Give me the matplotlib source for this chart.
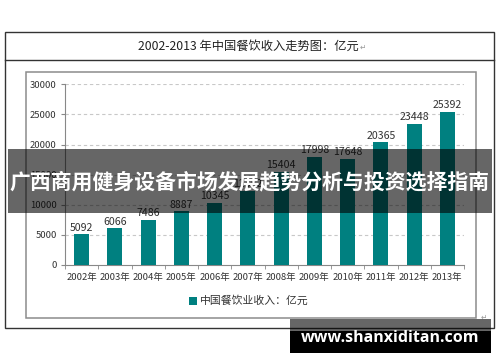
import matplotlib
matplotlib.use("Agg")
import matplotlib.pyplot as plt
from matplotlib.patches import Rectangle

plt.rcParams['font.family'] = ['Noto Sans CJK SC', 'DejaVu Sans']

years = ["2002年", "2003年", "2004年", "2005年", "2006年", "2007年",
         "2008年", "2009年", "2010年", "2011年", "2012年", "2013年"]
revenue = [5092, 6066, 7486, 8887, 10345, 12352, 15404, 17998, 17648, 20365, 23448, 25392]
yticks = [0, 5000, 10000, 15000, 20000, 25000, 30000]
title = "2002-2013 年中国餐饮收入走势图：亿元"
legend_label = "中国餐饮业收入：亿元"
banner = "广西商用健身设备市场发展趋势分析与投资选择指南"
watermark = "www.shanxiditan.com"

W, H = 500, 362
fig = plt.figure(figsize=(W / 100, H / 100), dpi=100)
fig.patch.set_facecolor("white")

def fx(x):
    return x / W

def fy(y):
    return 1 - y / H

def rect(x0, y0, x1, y1, **kw):
    r = Rectangle((fx(x0), fy(y1)), fx(x1) - fx(x0), fy(y0) - fy(y1),
                  transform=fig.transFigure, **kw)
    fig.add_artist(r)
    return r

# outer frame and title row
rect(5, 32, 494, 328, fill=False, edgecolor="#333333", linewidth=1.0, zorder=1)
fig.add_artist(plt.Line2D([fx(5), fx(494)], [fy(59.5), fy(59.5)],
                          transform=fig.transFigure, color="#333333", lw=1.0))
fig.text(fx(248), fy(46), title, ha="center", va="center", fontsize=8.8, color="#222222")
fig.text(fx(360), fy(47), "↵", ha="left", va="center", fontsize=5.5, color="#999999",
         family=['DejaVu Sans'])

# inner chart frame
rect(25.5, 72, 476.5, 318, fill=False, edgecolor="#8c8c8c", linewidth=1.1, zorder=1)

# axes
teal = "#008080"
ax = fig.add_axes([fx(65), fy(265), fx(464) - fx(65), fy(84.3) - fy(265)])
ax.set_facecolor("none")
x = list(range(len(years)))
bars = ax.bar(x, revenue, width=0.45, color=teal, zorder=3)
for xi, v in zip(x, revenue):
    ax.text(xi, v + 300, str(v), ha="center", va="bottom", fontsize=7.6, color="#333333")
ax.set_xlim(-0.5, len(years) - 0.5)
ax.set_ylim(0, 30000)
ax.set_yticks(yticks)
ax.set_yticklabels([str(t) for t in yticks], fontsize=6.8, color="#333333")
ax.set_xticks(x)
ax.set_xticklabels(years, fontsize=6.8, color="#333333")
ax.set_xticks([i - 0.5 for i in range(len(years) + 1)], minor=True)
ax.tick_params(axis="x", which="major", length=0, pad=6)
ax.tick_params(axis="x", which="minor", length=3, color="#888888", direction="out")
ax.tick_params(axis="y", length=3, color="#888888", direction="out", pad=3)
for t in yticks[1:]:
    ax.axhline(t, color="#c8c8c8", lw=0.8, ls=(0, (3, 2.5)), zorder=1)
for s in ["top", "right"]:
    ax.spines[s].set_visible(False)
ax.spines["left"].set_color("#888888")
ax.spines["bottom"].set_color("#888888")

# legend
rect(189, 297, 197, 304.5, facecolor=teal, edgecolor="none", zorder=4)
fig.text(fx(200), fy(300.5), legend_label, ha="left", va="center", fontsize=7.8, color="#333333")
fig.text(fx(481), fy(317), "↵", ha="left", va="center", fontsize=5.5, color="#999999",
         family=['DejaVu Sans'])

# banner overlay
rect(8, 149, 492, 213, facecolor="black", alpha=0.6, edgecolor="none", zorder=10)
fig.text(fx(250), fy(181.5), banner, ha="center", va="center", fontsize=15,
         fontweight="bold", color="white", zorder=11)

# watermark overlay
rect(290, 319, 491, 353, facecolor="black", alpha=0.6, edgecolor="none", zorder=10)
rect(290, 331, 491, 353, facecolor="black", edgecolor="none", zorder=10)
fig.text(fx(390), fy(338), watermark, ha="center", va="center", fontsize=11.5,
         fontweight="bold", color="white", family=['Open Sans', 'DejaVu Sans'], zorder=11)

fig.savefig("out.png", dpi=100)
